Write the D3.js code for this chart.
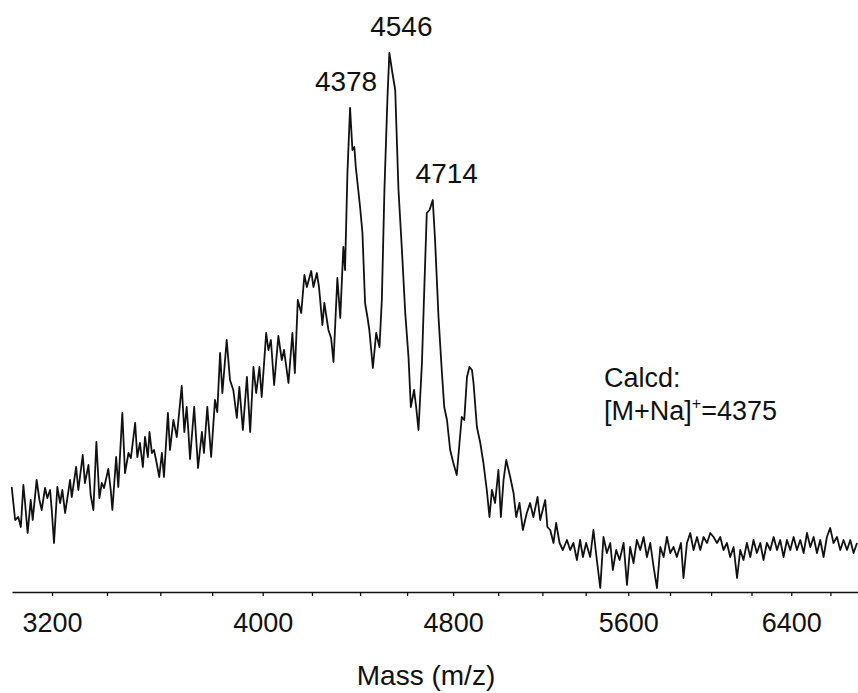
<!DOCTYPE html>
<html>
<head>
<meta charset="utf-8">
<script src="https://cdn.jsdelivr.net/npm/d3@7"></script>
<style>
  body { margin: 0; background: #fff; }
  text { font-family: "Liberation Sans", Arial, Helvetica, sans-serif; fill: #111; }
</style>
</head>
<body>
<div id="container"></div>
<script>
// spectrum: m/z and relative intensity (arbitrary units)
let massValues = [
  3057, 3069, 3080, 3089, 3098, 3104, 3113, 3124, 3131, 3145,
  3155, 3163, 3175, 3183, 3193, 3199, 3207, 3219, 3229, 3237,
  3247, 3265, 3271, 3287, 3295, 3311, 3319, 3332, 3340, 3350,
  3361, 3372, 3381, 3389, 3405, 3414, 3420, 3434, 3442, 3457,
  3467, 3480, 3489, 3505, 3513, 3523, 3534, 3542, 3553, 3559,
  3568, 3576, 3584, 3596, 3606, 3614, 3629, 3637, 3650, 3663,
  3682, 3692, 3701, 3708, 3714, 3730, 3745, 3760, 3768, 3781,
  3796, 3811, 3820, 3831, 3840, 3857, 3870, 3883, 3897, 3907,
  3921, 3937, 3950, 3963, 3974, 3987, 3996, 4014, 4023, 4033,
  4046, 4063, 4077, 4086, 4104, 4120, 4130, 4142, 4156, 4169,
  4179, 4197, 4206, 4220, 4229, 4243, 4251, 4268, 4279, 4289,
  4305, 4317, 4330, 4337, 4347, 4358, 4368, 4376, 4382, 4400,
  4410, 4421, 4431, 4439, 4454, 4468, 4482, 4492, 4503, 4516,
  4524, 4535, 4549, 4563, 4577, 4592, 4606, 4616, 4630, 4639,
  4649, 4664, 4674, 4685, 4697, 4711, 4721, 4736, 4751, 4761,
  4773, 4787, 4801, 4816, 4828, 4838, 4849, 4861, 4872, 4883,
  4890, 4905, 4920, 4934, 4949, 4961, 4972, 4986, 5001, 5012,
  5024, 5036, 5054, 5069, 5081, 5096, 5111, 5129, 5144, 5159,
  5178, 5190, 5213, 5223, 5236, 5251, 5263, 5279, 5294, 5313,
  5328, 5343, 5359, 5374, 5387, 5402, 5421, 5436, 5452, 5468,
  5483, 5499, 5515, 5527, 5543, 5559, 5578, 5594, 5609, 5625,
  5641, 5657, 5673, 5689, 5705, 5721, 5737, 5753, 5769, 5785,
  5801, 5817, 5833, 5853, 5865, 5882, 5898, 5914, 5931, 5947,
  5963, 5980, 5996, 6012, 6029, 6045, 6061, 6078, 6094, 6111,
  6128, 6144, 6160, 6177, 6194, 6210, 6227, 6244, 6260, 6277,
  6294, 6311, 6328, 6344, 6361, 6378, 6395, 6412, 6429, 6446,
  6463, 6480, 6497, 6514, 6531, 6548, 6565, 6582, 6599, 6616,
  6634, 6651, 6668, 6686, 6703, 6720, 6738
];

let intensityValues = [
  105, 72, 75, 65, 107, 89, 59, 92, 72, 112,
  92, 82, 104, 94, 102, 82, 49, 105, 89, 102,
  79, 112, 95, 125, 102, 137, 109, 127, 97, 82,
  150, 94, 109, 104, 123, 102, 82, 135, 105, 179,
  119, 139, 134, 169, 135, 149, 125, 155, 135, 160,
  139, 142, 132, 115, 139, 115, 179, 142, 172, 155,
  206, 160, 185, 159, 133, 185, 124, 160, 139, 185,
  135, 192, 180, 239, 199, 252, 212, 202, 174, 205,
  162, 215, 160, 225, 199, 225, 195, 259, 242, 252,
  207, 256, 232, 242, 209, 259, 219, 292, 279, 317,
  305, 321, 305, 319, 305, 267, 289, 262, 254, 230,
  314, 274, 345, 322, 419, 484, 442, 445, 425, 385,
  359, 289, 275, 262, 224, 259, 245, 292, 402, 495,
  539, 522, 502, 402, 345, 279, 235, 185, 202, 185,
  162, 229, 302, 379, 382, 392, 352, 275, 219, 185,
  172, 142, 129, 117, 149, 175, 172, 215, 225, 222,
  209, 165, 149, 129, 102, 75, 102, 89, 122, 75,
  112, 132, 115, 99, 75, 89, 62, 79, 89, 75,
  95, 72, 92, 65, 62, 49, 69, 49, 42, 52,
  42, 49, 32, 52, 35, 49, 35, 62, 32, 4,
  55, 39, 49, 22, 42, 32, 49, 7, 45, 29,
  52, 42, 55, 35, 49, 25, 4, 45, 35, 55,
  39, 45, 35, 49, 14, 49, 59, 42, 55, 42,
  55, 49, 59, 55, 49, 55, 42, 49, 35, 45,
  14, 42, 32, 49, 35, 52, 39, 49, 32, 49,
  42, 55, 42, 52, 35, 52, 42, 55, 42, 52,
  39, 59, 45, 55, 39, 52, 35, 55, 64, 49,
  55, 42, 52, 42, 52, 39, 49
];

let tickValues = [3200, 3400, 3600, 3800, 4000, 4200, 4400, 4600, 4800,
  5000, 5200, 5400, 5600, 5800, 6000, 6200, 6400, 6600];
let tickLabels = ["3200", "4000", "4800", "5600", "6400"];
let peakLabels = ["4378", "4546", "4714"];
let noteText = ["Calcd:", "[M+Na]", "+", "=4375"];
let axisTitle = "Mass (m/z)";

let w = 858;
let h = 693;

let viz = d3.select("#container")
  .append("svg")
    .attr("width", w)
    .attr("height", h)
;

// TOF data, so the mass axis runs on a square-root scale
let xScale = d3.scalePow().exponent(0.5).domain([3058, 6743]).range([12, 858]);
let yScale = d3.scaleLinear().domain([0, 540]).range([592, 52]);

// x axis
let xAxis = d3.axisBottom(xScale)
  .tickValues(tickValues)
  .tickSize(4)
  .tickSizeOuter(0)
  .tickFormat(function(d){ return tickLabels.includes(String(d)) ? d : ""; });

let xAxisGroup = viz.append("g").attr("class", "xaxis");
xAxisGroup.call(xAxis);
xAxisGroup.attr("transform", "translate(0, 592)");
xAxisGroup.select(".domain").attr("stroke", "#111").attr("stroke-width", 1.5);
xAxisGroup.selectAll(".tick line").attr("stroke", "#111").attr("stroke-width", 1.3);
xAxisGroup.selectAll(".tick text")
  .attr("y", 21)
  .attr("font-size", 27)
  .attr("font-family", "'Liberation Sans', Arial, sans-serif")
  .attr("fill", "#111")
;

// spectrum trace
let line = d3.line()
  .x(function(d, i){ return xScale(massValues[i]); })
  .y(function(d){ return yScale(d); });

viz.append("path")
  .datum(intensityValues)
  .attr("d", line)
  .attr("fill", "none")
  .attr("stroke", "#111")
  .attr("stroke-width", 1.8)
  .attr("stroke-linejoin", "round")
;

// peak labels, placed above the apex found near each labelled mass
let labelShift = [-4, 12, 14];
peakLabels.forEach(function(lab, k){
  let target = +lab;
  let best = -1;
  massValues.forEach(function(m, i){
    if (Math.abs(m - target) < 40 && (best < 0 || intensityValues[i] > intensityValues[best])) {
      best = i;
    }
  });
  viz.append("text")
    .text(lab)
    .attr("x", xScale(massValues[best]) + labelShift[k])
    .attr("y", yScale(intensityValues[best]) - 17)
    .attr("text-anchor", "middle")
    .attr("font-size", 28)
  ;
});

// calculated mass note
viz.append("text")
  .text(noteText[0])
  .attr("x", 604)
  .attr("y", 387)
  .attr("font-size", 27)
;
let note2 = viz.append("text")
  .attr("x", 604)
  .attr("y", 420)
  .attr("font-size", 27)
;
note2.append("tspan").text(noteText[1]);
note2.append("tspan").text(noteText[2]).attr("font-size", 16).attr("dy", -11);
note2.append("tspan").text(noteText[3]).attr("dy", 11);

// axis title
viz.append("text")
  .text(axisTitle)
  .attr("x", 426)
  .attr("y", 685)
  .attr("text-anchor", "middle")
  .attr("font-size", 28)
;
</script>
</body>
</html>
